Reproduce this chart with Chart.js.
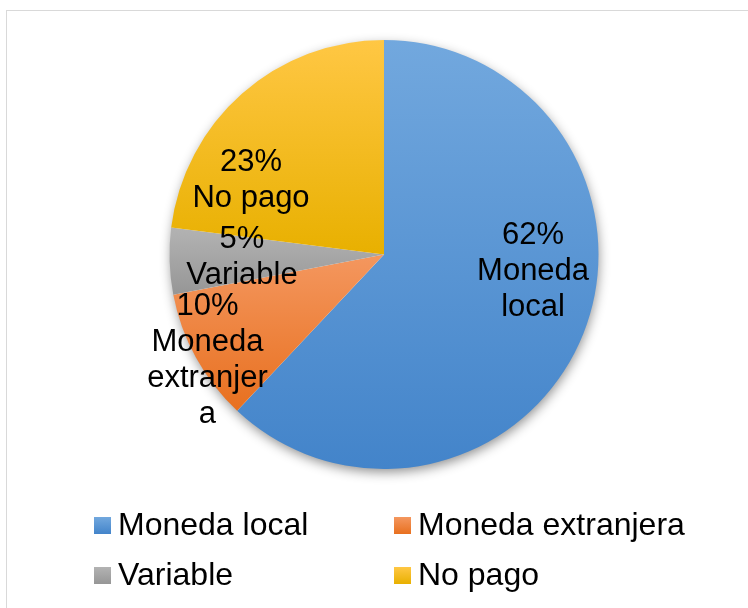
<!DOCTYPE html>
<html>
<head>
<meta charset="utf-8">
<script src="https://cdn.jsdelivr.net/npm/chart.js@4.4.1/dist/chart.umd.min.js"></script>
<style>
html,body{margin:0;padding:0;background:#ffffff;}
#wrap{width:748px;height:608px;position:relative;}
</style>
</head>
<body>
<div id="wrap"><canvas id="c"></canvas></div>
<script>
// ---- data ----
const categories = ['Moneda local', 'Moneda extranjera', 'Variable', 'No pago'];
const shares = [62, 10, 5, 23];

// ---- styles ----
const colorsTop = ['#72A8DE', '#F4975F', '#B3B3B3', '#FFC744'];
const colorsBottom = ['#4384CA', '#E8701F', '#969696', '#E8B000'];
const FONT = "'Liberation Sans', Arial, sans-serif";
const labelFontSize = 31;
const labelLineHeight = 36;
const labelMaxWidth = 125;
// label block anchor (first baseline), as fraction of pie radius from pie centre
const labelAnchors = [[0.695, -0.051], [-0.823, 0.280], [-0.662, -0.028], [-0.620, -0.387]];
const legendLayout = { fontSize: 32, box: 17, colX: [94, 394], rowBaseline: [535, 585], gap: 7 };

function sliceGradient(ctx, arc, i) {
  const x = arc.x, y = arc.y, s = arc.startAngle, e = arc.endAngle, r = arc.outerRadius;
  const ys = [y, y + r * Math.sin(s), y + r * Math.sin(e)];
  for (let a = -1.5 * Math.PI; a <= 3.5 * Math.PI; a += Math.PI) {
    if (a > s && a < e) ys.push(y + r * Math.sin(a));
  }
  const y0 = Math.min.apply(null, ys), y1 = Math.max.apply(null, ys);
  const g = ctx.createLinearGradient(0, y0, 0, y1);
  g.addColorStop(0, colorsTop[i]);
  g.addColorStop(1, colorsBottom[i]);
  return g;
}

function wrapText(ctx, text, maxW) {
  const words = text.split(' ');
  const lines = [];
  let cur = '';
  words.forEach(w => {
    const test = cur ? cur + ' ' + w : w;
    if (ctx.measureText(test).width <= maxW) { cur = test; return; }
    if (cur) lines.push(cur);
    // break long word by characters
    let piece = '';
    for (const ch of w) {
      if (ctx.measureText(piece + ch).width > maxW && piece) { lines.push(piece); piece = ch; }
      else piece += ch;
    }
    cur = piece;
  });
  if (cur) lines.push(cur);
  return lines;
}

const frameAndShadow = {
  id: 'frameAndShadow',
  beforeDraw(chart) {
    const ctx = chart.ctx;
    ctx.save();
    ctx.strokeStyle = '#D9D9D9';
    ctx.lineWidth = 1;
    ctx.strokeRect(6.5, 10.5, 800, 700);
    ctx.restore();
  },
  beforeDatasetsDraw(chart) {
    const ctx = chart.ctx;
    const meta = chart.getDatasetMeta(0);
    meta.data.forEach((arc, i) => { arc.options.backgroundColor = sliceGradient(ctx, arc, i); });
    const a0 = meta.data[0];
    ctx.save();
    ctx.shadowColor = 'rgba(0,0,0,0.45)';
    ctx.shadowBlur = 12;
    ctx.shadowOffsetX = 1;
    ctx.shadowOffsetY = 4;
    ctx.beginPath();
    ctx.arc(a0.x, a0.y, a0.outerRadius - 1, 0, Math.PI * 2);
    ctx.fillStyle = '#ffffff';
    ctx.fill();
    ctx.restore();
  },
  afterDatasetsDraw(chart) {
    const ctx = chart.ctx;
    const meta = chart.getDatasetMeta(0);
    const total = shares.reduce((a, b) => a + b, 0);
    ctx.save();
    ctx.font = labelFontSize + 'px ' + FONT;
    ctx.fillStyle = '#000000';
    ctx.textAlign = 'center';
    ctx.textBaseline = 'alphabetic';
    meta.data.forEach((arc, i) => {
      const pct = Math.round(shares[i] / total * 100) + '%';
      const lines = [pct].concat(wrapText(ctx, categories[i], labelMaxWidth));
      const x = arc.x + labelAnchors[i][0] * arc.outerRadius;
      const y = arc.y + labelAnchors[i][1] * arc.outerRadius;
      lines.forEach((t, k) => ctx.fillText(t, x, y + k * labelLineHeight));
    });
    ctx.restore();
  },
  afterDraw(chart) {
    const ctx = chart.ctx;
    const L = legendLayout;
    ctx.save();
    ctx.font = L.fontSize + 'px ' + FONT;
    ctx.textAlign = 'left';
    ctx.textBaseline = 'alphabetic';
    categories.forEach((name, i) => {
      const col = i % 2, row = Math.floor(i / 2);
      const bx = L.colX[col], base = L.rowBaseline[row];
      const by = base - L.box - 1;
      const g = ctx.createLinearGradient(0, by, 0, by + L.box);
      g.addColorStop(0, colorsTop[i]);
      g.addColorStop(1, colorsBottom[i]);
      ctx.fillStyle = g;
      ctx.fillRect(bx, by, L.box, L.box);
      ctx.fillStyle = '#000000';
      ctx.fillText(name, bx + L.box + L.gap, base);
    });
    ctx.restore();
  }
};

new Chart(document.getElementById('c'), {
  type: 'pie',
  data: {
    labels: categories,
    datasets: [{
      data: shares,
      backgroundColor: (c) => colorsTop[c.dataIndex],
      borderWidth: 0
    }]
  },
  options: {
    responsive: true,
    maintainAspectRatio: false,
    animation: false,
    events: [],
    layout: { padding: { top: 40, bottom: 139, left: 20, right: 0 } },
    plugins: { legend: { display: false }, tooltip: { enabled: false } }
  },
  plugins: [frameAndShadow]
});
</script>
</body>
</html>
